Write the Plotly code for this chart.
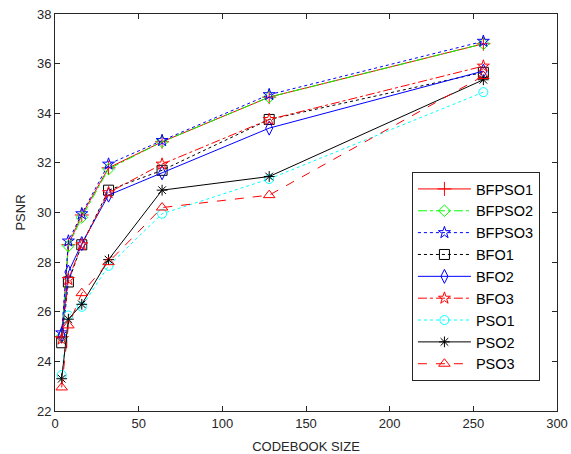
import plotly.graph_objects as go

codebook = [4, 8, 16, 32, 64, 128, 256]

BFPSO1 = [25.0, 28.7, 29.9, 31.8, 32.85, 34.65, 36.8]
BFPSO2 = [25.0, 28.65, 29.8, 31.75, 32.85, 34.65, 36.8]
BFPSO3 = [25.15, 28.85, 29.95, 31.95, 32.9, 34.75, 36.9]
BFO1 = [24.75, 27.2, 28.7, 30.9, 31.7, 33.75, 35.65]
BFO2 = [25.05, 27.6, 28.75, 30.7, 31.6, 33.4, 35.7]
BFO3 = [24.9, 27.3, 28.7, 30.8, 31.95, 33.75, 35.9]
PSO1 = [23.45, 25.85, 26.2, 27.85, 29.95, 31.35, 34.85]
PSO2 = [23.3, 25.7, 26.3, 28.1, 30.9, 31.45, 35.35]
PSO3 = [22.95, 25.45, 26.75, 28.0, 30.2, 30.7, 35.5]

series = [
    ("BFPSO1", BFPSO1, "#ff0000", "solid", "cross-thin-open", 10),
    ("BFPSO2", BFPSO2, "#00ff00", "dashdot", "diamond-open", 9),
    ("BFPSO3", BFPSO3, "#0000ff", "dot", "star-open", 9),
    ("BFO1", BFO1, "#000000", "dot", "square-open", 10),
    ("BFO2", BFO2, "#0000ff", "solid", "diamond-tall-open", 10),
    ("BFO3", BFO3, "#ff0000", "dashdot", "star-open", 9),
    ("PSO1", PSO1, "#00ffff", "dot", "circle-open", 9),
    ("PSO2", PSO2, "#000000", "solid", "asterisk-open", 9),
    ("PSO3", PSO3, "#ff0000", "dash", "triangle-up-open", 10),
]

fig = go.Figure()
for name, vals, color, dash, sym, size in series:
    fig.add_trace(go.Scatter(
        x=codebook, y=vals, name=name, mode="lines+markers",
        legendgroup=name,
        line=dict(color=color, width=1, dash=dash),
        marker=dict(symbol=sym, size=size, color=color,
                    line=dict(color=color, width=1)),
    ))

FONT = "Liberation Sans, Arial"
axis_common = dict(
    showgrid=False, zeroline=False, showline=True, linecolor="#262626",
    linewidth=1, mirror="allticks", ticks="inside", ticklen=5,
    tickcolor="#262626", tickfont=dict(size=13, color="#262626", family=FONT),
    ticklabeloverflow="allow",
)

fig.update_xaxes(range=[0, 300], dtick=50, automargin=False, title=dict(
    text="CODEBOOK SIZE", font=dict(size=13, color="#262626", family=FONT)),
    **axis_common)
fig.update_yaxes(range=[22, 38], dtick=2, automargin="left", title=dict(
    text="PSNR", font=dict(size=13, color="#262626", family=FONT),
    standoff=8), **axis_common)

fig.update_layout(
    width=571, height=454,
    margin=dict(l=55, r=14, t=14, b=43),
    paper_bgcolor="white", plot_bgcolor="white",
    font=dict(family=FONT, color="#262626"),
    legend=dict(
        x=0.711, y=0.602, xanchor="left", yanchor="top",
        bgcolor="white", bordercolor="#262626", borderwidth=1,
        font=dict(size=14.5, color="#000000", family=FONT),
        tracegroupgap=0, itemwidth=53,
    ),
)

post = """
document.documentElement.style.margin='0';
document.documentElement.style.overflow='hidden';
document.body.style.margin='0';
document.body.style.overflow='hidden';
"""

fig.write_html("out.html", post_script=post, config={"displayModeBar": False})
